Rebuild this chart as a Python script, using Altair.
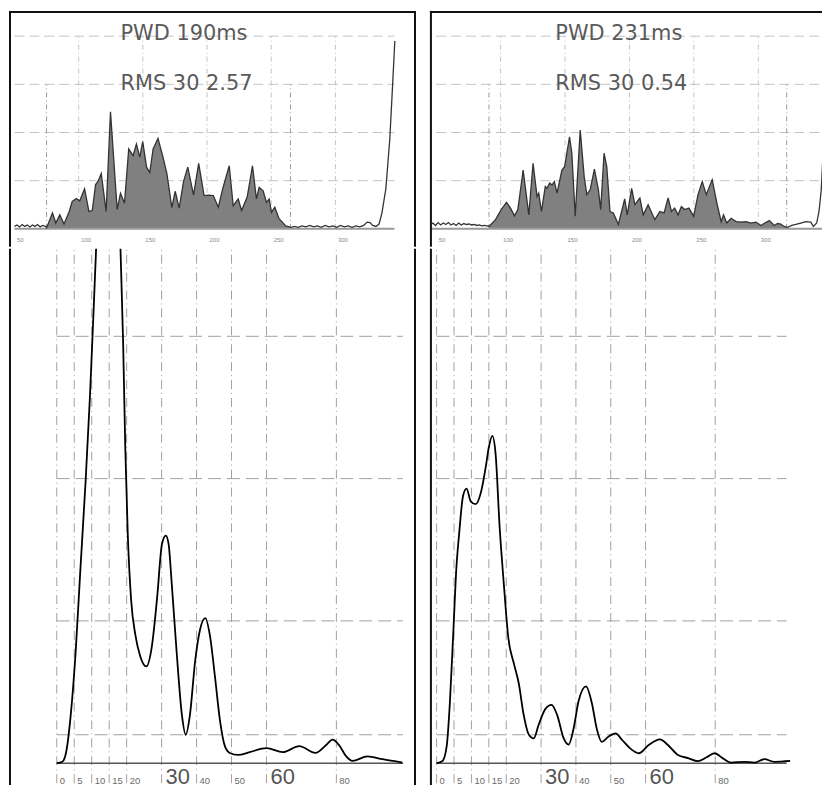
import altair as alt
import pandas as pd

# ------------------------------------------------------------------ data
# left panel, P-wave signal (ms, amplitude in grid units)
L_ms = [50, 52, 54, 56, 58, 60, 62, 64, 66, 68, 70, 72, 74, 75,
        79.6, 82.2, 85.3, 88.6, 92.5, 95, 98.2, 100.8, 104.6, 108, 110.6, 113.2, 115, 117.6,
        121.4, 124.8, 130, 132.6, 135.7, 139, 142.4, 145, 147.6, 149.9, 152.9, 155.4, 158,
        161.8, 165.7, 168.7, 172.6, 175.2, 178.3, 181.7, 185, 189.5, 193.5, 197.7, 201,
        204.9, 208.8, 212.2, 217.3, 220.4, 224.3, 226.9, 231.3, 235.4, 238.5, 240.6, 243.7,
        246.3, 248.4, 250.2, 252.8, 256.1, 258.7, 261.3, 265.7,
        268, 271, 274, 277, 280, 283, 286, 289, 292, 295, 298, 301, 304, 307, 310, 313, 316,
        319, 322, 324.8, 327, 329, 331.6, 334, 336.2, 339.3, 342.4, 344.4, 346.3]
L_amp = [0.05, 0.08, 0.04, 0.09, 0.05, 0.08, 0.04, 0.08, 0.05, 0.09, 0.04, 0.07, 0.05, 0.02,
         0.33, 0.12, 0.29, 0.10, 0.35, 0.57, 0.63, 0.58, 0.83, 0.36, 0.38, 0.92, 0.98, 1.15,
         0.36, 2.43, 0.40, 0.74, 0.53, 1.66, 1.52, 1.76, 1.49, 1.81, 1.28, 1.17, 1.66,
         1.88, 1.49, 1.15, 0.44, 0.78, 0.43, 0.98, 1.28, 0.70, 1.36, 0.69, 0.70,
         0.69, 0.45, 0.83, 1.31, 0.48, 0.62, 0.38, 0.66, 1.31, 0.62, 0.86, 0.79,
         0.55, 0.62, 0.34, 0.45, 0.21, 0.14, 0.06, 0.03,
         0.05, 0.03, 0.06, 0.04, 0.07, 0.04, 0.06, 0.03, 0.07, 0.04, 0.06, 0.03, 0.07, 0.04, 0.06, 0.03, 0.06,
         0.04, 0.07, 0.14, 0.13, 0.07, 0.05, 0.10, 0.32, 0.83, 1.87, 2.90, 3.90]

# right panel, P-wave signal
R_ms = [45.5, 47.5, 49.5, 51.5, 53.5, 55.5, 57.5, 59.5, 61.5, 63.5, 65.5, 67.5, 69.5, 71.5,
        73.5, 75.5, 77.5, 79.5, 81.5, 83.5, 85.5, 87.5, 89.5, 91,
        96.1, 100.5, 104.6, 107.7, 110.8, 113.4, 117.5, 121.9, 125.2, 128.3, 129.6, 131.7,
        134.7, 136, 138.1, 139.9, 141.7, 143.8, 147.6, 149.7, 153.5, 155.3, 157.9, 161.8,
        164.9, 166.9, 169.5, 172.8, 175.9, 177.7, 180.3, 182.4, 184.9, 187.5, 191.4, 193.9,
        196.3, 198.3, 201.7, 204.2, 208.1, 210.7, 214.5, 219.7, 223.6, 226.9, 230, 232.6,
        235.1, 237.7, 240.3, 242.9, 246.2, 249.8, 253.2, 256.5, 259.6, 264.2, 268.1, 271.2,
        273, 275.5, 278.9, 282.8, 286.6, 290.5, 294.3, 298.2, 302.1, 305, 308.5, 312.4, 315,
        317.5, 320, 322.7, 326, 329.1, 333, 336.8, 340.7, 342.7, 345.3, 347.1, 348.8, 350.2,
        352.7, 354.3, 356, 357.5]
R_amp = [0.08, 0.12, 0.07, 0.13, 0.08, 0.12, 0.09, 0.13, 0.08, 0.11, 0.07, 0.12, 0.08, 0.11,
         0.09, 0.10, 0.08, 0.09, 0.07, 0.08, 0.06, 0.07, 0.06, 0.05,
         0.19, 0.40, 0.55, 0.43, 0.27, 0.40, 1.22, 0.29, 1.36, 0.67, 0.74, 0.36,
         0.88, 0.84, 0.95, 0.91, 0.98, 0.74, 1.22, 1.29, 1.91, 1.57, 0.26, 2.05,
         1.08, 0.71, 0.81, 1.24, 0.81, 0.40, 1.57, 1.29, 0.36, 0.33, 0.09, 0.36,
         0.62, 0.29, 0.84, 0.50, 0.64, 0.29, 0.50, 0.19, 0.36, 0.33, 0.64, 0.36,
         0.43, 0.29, 0.46, 0.40, 0.43, 0.26, 0.71, 0.98, 0.71, 1.02, 0.50, 0.15,
         0.29, 0.12, 0.22, 0.15, 0.14, 0.15, 0.12, 0.14, 0.07, 0.12, 0.17, 0.07, 0.11,
         0.10, 0.05, 0.03, 0.07, 0.09, 0.12, 0.15, 0.14, 0.05, 0.12, 0.36, 0.80, 1.54,
         2.57, 3.40, 4.30, 4.80]

# spectra (Hz, power)
L_hz = [0, 1.6, 2.85, 4.0, 5.4, 6.8, 8.25, 9.5, 10.6, 11.3, 12.8, 14.8, 16.8, 18.2, 19.0,
        19.6, 20.3, 21.3, 22.5, 23.9, 25.6, 27.2, 28.7, 30.1, 31.2, 32.0, 32.9, 34.3, 35.8,
        36.9, 38.1, 39.6, 41.0, 42.5, 43.8, 45.3, 46.7, 48.1, 49.5, 51.9, 55.2, 60.0, 64.7,
        69.4, 74.0, 77.0, 78.9, 80.8, 82.7, 84.6, 88.9, 93.2, 98.9]
L_pow = [0, 0.005, 0.05, 0.17, 0.39, 0.69, 0.99, 1.29, 1.61, 1.82, 2.30, 2.00, 2.50, 1.82, 1.47,
         1.11, 0.81, 0.57, 0.45, 0.375, 0.34, 0.41, 0.58, 0.77, 0.80, 0.77, 0.63, 0.39, 0.17,
         0.10, 0.17, 0.36, 0.47, 0.51, 0.45, 0.30, 0.15, 0.06, 0.036, 0.029, 0.039, 0.053, 0.039,
         0.060, 0.036, 0.063, 0.083, 0.063, 0.026, 0.008, 0.024, 0.014, 0.002]
R_hz = [0, 1.7, 2.9, 3.8, 4.76, 5.7, 6.5, 7.6, 8.6, 9.8, 11.2, 12.7, 14.1, 15.0, 16.0, 16.95,
        18.1, 19.3, 20.6, 22.2, 23.6, 25.0, 26.5, 27.9, 29.3, 31.2, 33.0, 34.6, 36.5, 37.9,
        39.3, 40.8, 42.9, 44.6, 46.0, 47.4, 49.3, 51.4, 53.1, 55.5, 58.1, 60.8, 64.1, 66.5,
        69.3, 72.2, 75.0, 77.4, 79.8, 82.2, 84.6, 88.4, 91.2, 94.1, 97.0, 101.5]
R_pow = [0, 0.008, 0.06, 0.21, 0.45, 0.69, 0.81, 0.94, 0.965, 0.92, 0.91, 0.95, 1.04, 1.11,
         1.15, 1.085, 0.83, 0.63, 0.44, 0.35, 0.28, 0.17, 0.10, 0.087, 0.135, 0.19, 0.205, 0.17,
         0.087, 0.065, 0.12, 0.22, 0.27, 0.21, 0.12, 0.075, 0.093, 0.105, 0.084, 0.053, 0.035,
         0.063, 0.084, 0.063, 0.029, 0.018, 0.007, 0.020, 0.035, 0.017, 0.002, 0.005, 0.002,
         0.014, 0.005, 0.008]

titles_left = ["PWD 190ms", "RMS 30 2.57"]
titles_right = ["PWD 231ms", "RMS 30 0.54"]
pwd_left = [75, 265]
pwd_right = [91, 322]
ms_ticks_left = [50, 100, 150, 200, 250, 300]
ms_ticks_right = [50, 100, 150, 200, 250, 300, 350]
ms_grid = [100, 150, 200, 250, 300]
amp_grid = [1, 2, 3, 4]
hz_ticks = [0, 5, 10, 15, 20, 30, 40, 50, 60, 80]
hz_big = [30, 60]
pow_grid = [0.1, 0.5, 1.0, 1.5]

# ------------------------------------------------------------------ layout
TOP_H, BOT_H = 237, 539
W_L, W_R = 409, 394
TOP_Y = [-18 / 48.4, 219 / 48.4]
BOT_Y = [-22 / 286, 517 / 286]
L_MS = [50 + (0 - 5.5) / 1.29, 50 + (W_L - 5.5) / 1.29]
R_MS = [100 - 71 / 1.295, 100 + (W_R - 71) / 1.295]
L_HZ = [-48 / 3.5125, (W_L - 48) / 3.5125]
R_HZ = [-6.7 / 3.5, (W_R - 6.7) / 3.5]

GRID_TOP = "#c4c4c4"
GRID_BOT = "#a0a0a0"
TXT = "#5a5a5a"
one = pd.DataFrame({"k": [0]})


def panel(ms, amp, pwd, titles, ms_ticks, ms_end, hz, pw, hz_end, W, ms_dom, hz_dom, title_x, right_border):
    xs = alt.Scale(domain=ms_dom, nice=False, zero=False)
    ys = alt.Scale(domain=TOP_Y, nice=False, zero=False)

    def X(f):
        return alt.X(f"{f}:Q", scale=xs, axis=None)

    def Y(f):
        return alt.Y(f"{f}:Q", scale=ys, axis=None)

    sig = pd.DataFrame({"ms": ms, "amp": amp})
    sig["z"] = 0.0
    fill = sig[(sig.ms >= pwd[0]) & (sig.ms <= pwd[1] + 1)]
    hgrid = pd.DataFrame({"v": amp_grid, "a": ms_ticks[0], "b": ms_end})
    vgrid = pd.DataFrame({"ms": ms_grid, "a": 0, "b": 4})
    marks = pd.DataFrame({"ms": pwd, "a": 0, "b": 3})
    base = pd.DataFrame({"v": [0], "a": [min(ms)], "b": [ms_end]})
    ticks = pd.DataFrame({"t": ms_ticks, "lab": [str(t) for t in ms_ticks]})

    layers = [
        alt.Chart(hgrid).mark_rule(color=GRID_TOP, strokeWidth=1, strokeDash=[10, 5], clip=True).encode(
            y=Y("v"), x=X("a"), x2="b:Q"),
        alt.Chart(vgrid).mark_rule(color=GRID_TOP, strokeWidth=1, strokeDash=[5, 3, 1, 3]).encode(
            x=X("ms"), y=Y("a"), y2="b:Q"),
        alt.Chart(marks).mark_rule(color="#9a9a9a", strokeWidth=1, strokeDash=[5, 3, 1, 3]).encode(
            x=X("ms"), y=Y("a"), y2="b:Q"),
        alt.Chart(fill).mark_area(color="#808080", opacity=1, clip=True).encode(
            x=X("ms"), y=Y("amp"), y2="z:Q"),
        alt.Chart(base).mark_rule(color="#9a9a9a", strokeWidth=2, clip=True).encode(
            y=Y("v"), x=X("a"), x2="b:Q"),
        alt.Chart(sig).mark_line(color="#333333", strokeWidth=1.3, clip=True).encode(
            x=X("ms"), y=Y("amp")),
        alt.Chart(ticks).mark_text(align="left", baseline="middle", dx=2.5, fontSize=6, clip=True,
                                   font="Liberation Sans", color="#8a8a8a").encode(
            x=X("t"), y=alt.value(230.5), text="lab:N"),
        alt.Chart(pd.DataFrame({"t": [titles[0]]})).mark_text(
            align="left", baseline="alphabetic", fontSize=21, font="DejaVu Sans", color=TXT).encode(
            x=alt.value(title_x), y=alt.value(29), text="t:N"),
        alt.Chart(pd.DataFrame({"t": [titles[1]]})).mark_text(
            align="left", baseline="alphabetic", fontSize=21, font="DejaVu Sans", color=TXT).encode(
            x=alt.value(title_x), y=alt.value(79), text="t:N"),
        alt.Chart(one).mark_rule(color="#111111", strokeWidth=2).encode(
            x=alt.value(1), y=alt.value(0), y2=alt.value(TOP_H)),
        alt.Chart(one).mark_rule(color="#111111", strokeWidth=2).encode(
            y=alt.value(1), x=alt.value(0), x2=alt.value(W)),
    ]
    if right_border:
        layers.append(alt.Chart(one).mark_rule(color="#111111", strokeWidth=2).encode(
            x=alt.value(W - 1), y=alt.value(0), y2=alt.value(TOP_H)))
    top = alt.layer(*layers).properties(width=W, height=TOP_H)

    # ---- spectrum
    hxs = alt.Scale(domain=hz_dom, nice=False, zero=False)
    hys = alt.Scale(domain=BOT_Y, nice=False, zero=False)

    def HX(f):
        return alt.X(f"{f}:Q", scale=hxs, axis=None)

    def HY(f):
        return alt.Y(f"{f}:Q", scale=hys, axis=None)

    spec = pd.DataFrame({"hz": hz, "p": pw})
    phg = pd.DataFrame({"v": pow_grid, "a": 0, "b": hz_end})
    pvg = pd.DataFrame({"hz": hz_ticks, "a": -0.07, "b": BOT_Y[1]})
    pbase = pd.DataFrame({"v": [0], "a": [0], "b": [hz_end]})
    small = pd.DataFrame({"hz": [h for h in hz_ticks if h not in hz_big]})
    small["lab"] = small.hz.astype(str)
    big = pd.DataFrame({"hz": hz_big})
    big["lab"] = big.hz.astype(str)

    blayers = [
        alt.Chart(phg).mark_rule(color=GRID_BOT, strokeWidth=1, strokeDash=[13, 6]).encode(
            y=HY("v"), x=HX("a"), x2="b:Q"),
        alt.Chart(pvg).mark_rule(color=GRID_BOT, strokeWidth=1, strokeDash=[9, 4, 1, 4]).encode(
            x=HX("hz"), y=HY("a"), y2="b:Q"),
        alt.Chart(pbase).mark_rule(color="#555555", strokeWidth=1.5).encode(
            y=HY("v"), x=HX("a"), x2="b:Q"),
        alt.Chart(spec).mark_line(color="#000000", strokeWidth=1.8, interpolate="monotone", clip=True).encode(
            x=HX("hz"), y=HY("p")),
        alt.Chart(small).mark_text(align="left", baseline="alphabetic", dx=3, fontSize=9.5, clip=True,
                                   font="Liberation Sans", color="#6a6a6a").encode(
            x=HX("hz"), y=alt.value(BOT_H - 1), text="lab:N"),
        alt.Chart(big).mark_text(align="left", baseline="alphabetic", dx=4, fontSize=22, clip=True,
                                 font="Liberation Sans", color="#555555").encode(
            x=HX("hz"), y=alt.value(BOT_H - 1), text="lab:N"),
        alt.Chart(one).mark_rule(color="#111111", strokeWidth=2).encode(
            x=alt.value(1), y=alt.value(0), y2=alt.value(BOT_H)),
    ]
    if right_border:
        blayers.append(alt.Chart(one).mark_rule(color="#111111", strokeWidth=2).encode(
            x=alt.value(W - 1), y=alt.value(0), y2=alt.value(BOT_H)))
    bottom = alt.layer(*blayers).properties(width=W, height=BOT_H)
    return alt.vconcat(top, bottom, spacing=0).resolve_scale(x="independent", y="independent")


left = panel(L_ms, L_amp, pwd_left, titles_left, ms_ticks_left, 346, L_hz, L_pow, 99,
             W_L, L_MS, L_HZ, 112, True)
right = panel(R_ms, R_amp, pwd_right, titles_right, ms_ticks_right, R_MS[1], R_hz, R_pow, 100.5,
              W_R, R_MS, R_HZ, 126, False)

chart = alt.hconcat(left, right, spacing=12).resolve_scale(
    x="independent", y="independent"
).properties(padding=0, background="white").configure_view(stroke=None)

chart.save("out.html", embed_options={"renderer": "svg", "actions": False})
